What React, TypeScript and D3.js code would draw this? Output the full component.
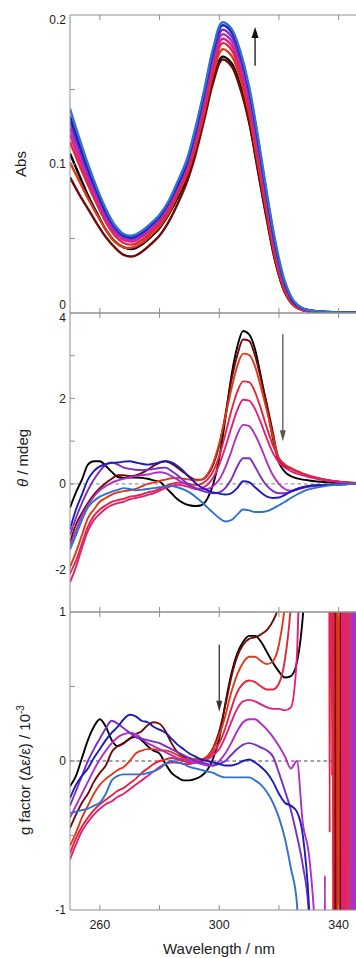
import React from 'react';
import * as d3 from 'd3';

const WIDTH = 356;
const HEIGHT = 958;
const FONT = '"Liberation Sans", Arial, Helvetica, sans-serif';

// ---------- series ----------
const SERIES_NAMES = ['black', 'maroon', 'red', 'crimson', 'pink', 'purple', 'violet', 'navy', 'blue'];
const SERIES_COLORS = ['#000000', '#720a0a', '#dd3a1c', '#e2263f', '#e41f7a', '#b12fc6', '#7a2dc8', '#1c1cb8', '#2f72cf'];

// ---------- absorbance panel ----------
const WL_ABS = [250, 253, 256, 259, 262, 265, 268, 271, 274, 277, 280, 283, 286, 289, 292, 295, 298, 301, 304, 307, 310, 313, 316, 319, 322, 325, 328, 331, 335, 340, 345, 350];
const ABS_BLACK = [0.107, 0.093, 0.079, 0.067, 0.056, 0.048, 0.044, 0.043, 0.046, 0.051, 0.057, 0.066, 0.077, 0.09, 0.108, 0.132, 0.157, 0.172, 0.168, 0.153, 0.129, 0.096, 0.063, 0.033, 0.014, 0.005, 0.002, 0.001, 0.0005, 0.0003, 0.0001, 0];
const ABS_MAROON = [0.091, 0.08, 0.07, 0.06, 0.051, 0.044, 0.039, 0.038, 0.041, 0.046, 0.052, 0.061, 0.073, 0.087, 0.106, 0.13, 0.155, 0.17, 0.166, 0.151, 0.128, 0.095, 0.062, 0.033, 0.014, 0.005, 0.002, 0.001, 0.0005, 0.0003, 0.0001, 0];
const ABS_RED = [0.101, 0.089, 0.077, 0.066, 0.056, 0.048, 0.044, 0.044, 0.047, 0.052, 0.058, 0.067, 0.079, 0.092, 0.111, 0.135, 0.161, 0.177, 0.173, 0.158, 0.134, 0.1, 0.066, 0.035, 0.015, 0.005, 0.002, 0.001, 0.0005, 0.0003, 0.0001, 0];
const ABS_CRIMSON = [0.115, 0.1, 0.086, 0.073, 0.061, 0.052, 0.047, 0.046, 0.049, 0.054, 0.06, 0.069, 0.081, 0.094, 0.114, 0.138, 0.165, 0.181, 0.177, 0.162, 0.138, 0.104, 0.069, 0.037, 0.016, 0.006, 0.002, 0.001, 0.0005, 0.0003, 0.0001, 0];
const ABS_PINK = [0.12, 0.104, 0.089, 0.076, 0.063, 0.054, 0.049, 0.048, 0.051, 0.056, 0.062, 0.071, 0.083, 0.096, 0.116, 0.141, 0.168, 0.184, 0.18, 0.165, 0.141, 0.107, 0.071, 0.039, 0.017, 0.006, 0.002, 0.001, 0.0005, 0.0003, 0.0001, 0];
const ABS_PURPLE = [0.124, 0.108, 0.092, 0.078, 0.065, 0.055, 0.05, 0.049, 0.052, 0.057, 0.063, 0.072, 0.084, 0.098, 0.118, 0.144, 0.171, 0.187, 0.183, 0.168, 0.144, 0.11, 0.074, 0.041, 0.018, 0.007, 0.003, 0.0015, 0.0008, 0.0004, 0.0002, 0];
const ABS_VIOLET = [0.128, 0.111, 0.094, 0.08, 0.066, 0.056, 0.051, 0.05, 0.053, 0.058, 0.064, 0.073, 0.085, 0.099, 0.12, 0.146, 0.173, 0.19, 0.186, 0.171, 0.147, 0.113, 0.076, 0.043, 0.019, 0.007, 0.003, 0.0015, 0.0008, 0.0004, 0.0002, 0];
const ABS_NAVY = [0.132, 0.114, 0.097, 0.082, 0.068, 0.058, 0.052, 0.051, 0.054, 0.059, 0.065, 0.074, 0.086, 0.1, 0.122, 0.148, 0.176, 0.193, 0.189, 0.174, 0.15, 0.116, 0.078, 0.044, 0.02, 0.007, 0.003, 0.0015, 0.0008, 0.0004, 0.0002, 0];
const ABS_BLUE = [0.137, 0.118, 0.1, 0.084, 0.07, 0.059, 0.053, 0.052, 0.055, 0.06, 0.066, 0.075, 0.088, 0.102, 0.124, 0.15, 0.178, 0.195, 0.191, 0.176, 0.152, 0.118, 0.08, 0.046, 0.021, 0.008, 0.003, 0.0015, 0.0008, 0.0004, 0.0002, 0];

// ---------- CD panel ----------
const WL_CD = [250, 252, 254, 256, 258, 260, 262, 264, 266, 268, 270, 272, 274, 276, 278, 280, 282, 284, 286, 288, 290, 292, 294, 296, 298, 300, 302, 304, 306, 308, 310, 312, 314, 316, 318, 320, 322, 324, 326, 328, 330, 334, 338, 342, 346, 350];
const CD_BLACK = [-0.56, -0.2, 0.1, 0.45, 0.53, 0.53, 0.42, 0.28, 0.16, 0.14, 0.15, 0.15, 0.14, 0.12, 0.08, 0.05, -0.08, -0.22, -0.36, -0.45, -0.5, -0.52, -0.5, -0.35, 0.0, 0.6, 1.5, 2.5, 3.2, 3.58, 3.5, 3.15, 2.5, 1.8, 1.05, 0.5, 0.28, 0.18, 0.13, 0.1, 0.08, 0.05, 0.03, 0.02, 0.01, 0];
const CD_MAROON = [-1.38, -0.95, -0.68, -0.45, -0.25, -0.1, 0.02, 0.12, 0.2, 0.2, 0.18, 0.2, 0.25, 0.33, 0.42, 0.5, 0.53, 0.47, 0.38, 0.27, 0.17, 0.1, 0.1, 0.2, 0.45, 0.9, 1.6, 2.4, 3.0, 3.38, 3.35, 3.0, 2.45, 1.85, 1.2, 0.55, 0.42, 0.36, 0.3, 0.24, 0.19, 0.12, 0.07, 0.04, 0.02, 0.01];
const CD_RED = [-1.95, -1.6, -1.2, -0.8, -0.6, -0.42, -0.33, -0.25, -0.2, -0.17, -0.15, -0.12, -0.06, 0.0, 0.03, 0.07, 0.1, 0.13, 0.14, 0.12, 0.1, 0.08, 0.1, 0.22, 0.5, 0.95, 1.55, 2.2, 2.75, 3.05, 3.02, 2.75, 2.25, 1.7, 1.1, 0.6, 0.45, 0.37, 0.3, 0.24, 0.19, 0.12, 0.07, 0.04, 0.02, 0.01];
const CD_CRIMSON = [-2.1, -1.8, -1.4, -1.0, -0.75, -0.6, -0.5, -0.42, -0.38, -0.35, -0.3, -0.28, -0.25, -0.2, -0.17, -0.12, -0.05, 0.0, 0.03, 0.02, 0.0, -0.03, 0.0, 0.1, 0.3, 0.65, 1.15, 1.7, 2.15, 2.4, 2.38, 2.15, 1.75, 1.3, 0.9, 0.6, 0.45, 0.36, 0.29, 0.23, 0.18, 0.11, 0.07, 0.04, 0.02, 0.01];
const CD_PINK = [-2.3, -1.95, -1.5, -1.1, -0.85, -0.7, -0.58, -0.5, -0.45, -0.42, -0.36, -0.33, -0.3, -0.26, -0.22, -0.16, -0.1, -0.05, -0.02, -0.04, -0.08, -0.12, -0.1, -0.02, 0.15, 0.45, 0.85, 1.3, 1.72, 1.97, 1.95, 1.75, 1.42, 1.05, 0.72, 0.5, 0.38, 0.3, 0.24, 0.2, 0.16, 0.1, 0.06, 0.03, 0.01, 0];
const CD_PURPLE = [-1.45, -1.1, -0.75, -0.5, -0.3, -0.15, -0.05, 0.03, 0.08, 0.12, 0.15, 0.18, 0.2, 0.22, 0.25, 0.27, 0.25, 0.18, 0.1, 0.02, -0.05, -0.1, -0.13, -0.12, -0.05, 0.1, 0.38, 0.75, 1.15, 1.38, 1.35, 1.15, 0.85, 0.5, 0.2, 0.0, -0.12, -0.16, -0.14, -0.1, -0.07, -0.04, -0.02, -0.01, 0, 0];
const CD_VIOLET = [-1.2, -0.8, -0.45, -0.15, 0.1, 0.3, 0.45, 0.5, 0.45, 0.38, 0.35, 0.33, 0.32, 0.33, 0.35, 0.37, 0.38, 0.3, 0.2, 0.08, -0.02, -0.1, -0.16, -0.2, -0.22, -0.2, -0.1, 0.1, 0.4, 0.6, 0.6, 0.4, 0.15, -0.05, -0.17, -0.22, -0.22, -0.18, -0.12, -0.08, -0.05, -0.03, -0.02, -0.01, 0, 0];
const CD_NAVY = [-1.07, -0.6, -0.25, 0.1, 0.3, 0.41, 0.46, 0.49, 0.5, 0.52, 0.53, 0.5, 0.47, 0.45, 0.47, 0.5, 0.53, 0.5, 0.42, 0.3, 0.15, 0.02, -0.08, -0.15, -0.2, -0.23, -0.25, -0.22, -0.1, 0.06, 0.04, -0.08, -0.2, -0.3, -0.33, -0.32, -0.26, -0.18, -0.12, -0.08, -0.05, -0.03, -0.02, -0.01, 0, 0];
const CD_BLUE = [-1.54, -1.2, -0.85, -0.55, -0.4, -0.3, -0.24, -0.18, -0.14, -0.1, -0.12, -0.15, -0.14, -0.12, -0.1, -0.08, -0.06, -0.05, -0.08, -0.13, -0.2, -0.3, -0.42, -0.55, -0.68, -0.8, -0.88, -0.85, -0.72, -0.6, -0.62, -0.66, -0.66, -0.64, -0.58, -0.5, -0.42, -0.33, -0.25, -0.18, -0.13, -0.07, -0.03, -0.01, 0, 0];

// ---------- g-factor panel ----------
const WL_G = [250, 252, 254, 256, 258, 260, 262, 264, 266, 268, 270, 272, 274, 276, 278, 280, 282, 284, 286, 288, 290, 292, 294, 296, 298, 300, 302, 304, 306, 308, 310, 312, 314, 316, 318, 320, 322, 324, 326, 328, 330, 332, 334];
const G_BLACK = [-0.17, -0.1, 0.02, 0.14, 0.23, 0.28, 0.23, 0.14, 0.1, 0.12, 0.15, 0.16, 0.14, 0.1, 0.07, 0.05, -0.02, -0.08, -0.11, -0.13, -0.13, -0.12, -0.1, -0.06, 0.02, 0.15, 0.38, 0.58, 0.72, 0.8, 0.84, 0.84, 0.8, 0.73, 0.66, 0.6, 0.56, 0.57, 0.66, 0.97, 1.6, 2, 2];
const G_MAROON = [-0.45, -0.36, -0.28, -0.22, -0.14, -0.08, -0.03, 0.06, 0.1, 0.12, 0.15, 0.18, 0.2, 0.24, 0.26, 0.25, 0.2, 0.12, 0.06, 0.03, 0.02, 0.01, 0.01, 0.03, 0.09, 0.2, 0.37, 0.56, 0.7, 0.78, 0.82, 0.83, 0.85, 0.88, 0.94, 1.06, 1.5, 2, 2, 2, 2, 2, 2];
const G_RED = [-0.57, -0.48, -0.38, -0.3, -0.22, -0.16, -0.12, -0.09, -0.06, -0.04, 0.0, 0.05, 0.07, 0.08, 0.08, 0.07, 0.07, 0.06, 0.04, 0.02, 0.01, 0.01, 0.01, 0.03, 0.08, 0.17, 0.3, 0.46, 0.58, 0.66, 0.7, 0.7, 0.67, 0.65, 0.67, 0.78, 1.05, 1.6, 2, 2, 2, 2, 2];
const G_CRIMSON = [-0.62, -0.52, -0.44, -0.38, -0.33, -0.29, -0.26, -0.23, -0.2, -0.18, -0.15, -0.12, -0.08, -0.05, -0.02, 0.0, 0.01, 0.02, 0.01, 0.0, -0.01, -0.01, 0.0, 0.02, 0.06, 0.12, 0.22, 0.35, 0.46, 0.52, 0.54, 0.53, 0.5, 0.48, 0.48, 0.52, 0.68, 1.05, 1.8, 2, 2, 2, 2];
const G_PINK = [-0.66, -0.56, -0.47, -0.41, -0.36, -0.32, -0.29, -0.27, -0.24, -0.22, -0.19, -0.16, -0.13, -0.1, -0.07, -0.04, -0.02, -0.01, -0.01, -0.02, -0.02, -0.01, 0.0, 0.01, 0.04, 0.08, 0.16, 0.26, 0.35, 0.4, 0.41, 0.4, 0.38, 0.36, 0.35, 0.35, 0.34, 0.36, 0.7, 2, 2, 2, 2];
const G_PURPLE = [-0.38, -0.3, -0.22, -0.14, -0.06, 0.01, 0.07, 0.12, 0.16, 0.18, 0.19, 0.18, 0.15, 0.12, 0.1, 0.08, 0.06, 0.04, 0.02, 0.01, 0.0, -0.01, -0.02, -0.03, -0.03, 0.0, 0.05, 0.12, 0.2, 0.26, 0.28, 0.28, 0.25, 0.21, 0.16, 0.1, 0.03, -0.05, 0.0, -0.42, -0.62, -1.1, -2];
const G_VIOLET = [-0.3, -0.2, -0.1, 0.0, 0.08, 0.15, 0.22, 0.27, 0.25, 0.22, 0.19, 0.16, 0.15, 0.14, 0.13, 0.12, 0.1, 0.08, 0.06, 0.04, 0.02, 0.0, -0.01, -0.02, -0.03, -0.02, 0.0, 0.04, 0.08, 0.11, 0.12, 0.11, 0.09, 0.07, 0.03, -0.08, -0.2, -0.33, -0.5, -0.7, -1.02, -2, -2];
const G_NAVY = [-0.25, -0.16, -0.1, -0.05, 0.02, 0.08, 0.14, 0.19, 0.23, 0.28, 0.31, 0.3, 0.27, 0.26, 0.23, 0.21, 0.19, 0.15, 0.11, 0.08, 0.05, 0.03, 0.01, 0.0, -0.01, -0.02, -0.03, -0.03, -0.02, 0.0, 0.01, -0.01, -0.04, -0.08, -0.14, -0.22, -0.28, -0.3, -0.34, -0.5, -0.95, -2, -2];
const G_BLUE = [-0.35, -0.34, -0.33, -0.32, -0.3, -0.28, -0.22, -0.13, -0.1, -0.09, -0.09, -0.09, -0.09, -0.08, -0.07, -0.05, -0.02, 0.0, -0.01, -0.02, -0.04, -0.05, -0.06, -0.07, -0.08, -0.1, -0.11, -0.11, -0.11, -0.11, -0.11, -0.13, -0.16, -0.21, -0.28, -0.38, -0.52, -0.72, -0.95, -2, -2, -2, -2];

// noisy region where the absorbance vanishes: [wavelength, g]
const G_TAIL_BLACK: [number, number][] = [[350, 2]];
const G_TAIL_MAROON: [number, number][] = [[338.5, 2], [338.7, -2], [338.9, 2], [339.1, -2], [339.3, 2], [340.1, 2], [340.3, -2], [340.5, 2], [340.7, -2], [340.9, 2], [350, 2]];
const G_TAIL_RED: [number, number][] = [[339.4, 2], [339.6, -2], [339.8, 2], [340.0, -2], [340.1, 2], [342.8, 2], [343.0, -2], [343.2, 2], [343.4, -2], [343.6, 2], [350, 2]];
const G_TAIL_CRIMSON: [number, number][] = [[336.8, 2], [337.0, -0.48], [337.2, 2], [337.6, 2], [337.8, -0.1], [338.0, 2], [338.2, -2], [338.4, 2], [350, 2]];
const G_TAIL_PINK: [number, number][] = [[337.3, 2], [337.5, 0.5], [337.7, 2], [341.0, 2], [341.2, -2], [341.5, 2], [341.8, -2], [342.1, 2], [342.4, -2], [342.7, 2], [350, 2]];
const G_TAIL_PURPLE: [number, number][] = [[335.2, -2], [335.4, -0.77], [335.6, -2], [343.8, -2], [344.0, 2], [344.3, -2], [344.6, 2], [344.9, -2], [345.2, 2], [345.5, -2], [345.8, 2], [350, 2]];
const G_TAIL_VIOLET: [number, number][] = [[350, -2]];
const G_TAIL_NAVY: [number, number][] = [[350, -2]];
const G_TAIL_BLUE: [number, number][] = [[350, -2]];

// ---------- axes ----------
const X_DOMAIN = [250, 350];
const X_TICKS = [260, 280, 300, 320, 340];
const X_TICK_LABELS = [260, 300, 340];
const ABS_TICKS = [0.05, 0.1, 0.15];
const ABS_TICK_LABELS = [0, 0.1, 0.2];
const CD_TICKS = [-2, -1, 0, 1, 2, 3];
const CD_TICK_LABELS = [-2, 0, 2, 4];
const G_TICKS = [-0.5, 0, 0.5];
const G_TICK_LABELS = [-1, 0, 1];

const ABS_SERIES = [ABS_BLACK, ABS_MAROON, ABS_RED, ABS_CRIMSON, ABS_PINK, ABS_PURPLE, ABS_VIOLET, ABS_NAVY, ABS_BLUE];
const CD_SERIES = [CD_BLACK, CD_MAROON, CD_RED, CD_CRIMSON, CD_PINK, CD_PURPLE, CD_VIOLET, CD_NAVY, CD_BLUE];
const G_SERIES = [G_BLACK, G_MAROON, G_RED, G_CRIMSON, G_PINK, G_PURPLE, G_VIOLET, G_NAVY, G_BLUE];
const G_TAILS = [G_TAIL_BLACK, G_TAIL_MAROON, G_TAIL_RED, G_TAIL_CRIMSON, G_TAIL_PINK, G_TAIL_PURPLE, G_TAIL_VIOLET, G_TAIL_NAVY, G_TAIL_BLUE];

const LEFT = 70;
const XRIGHT = 368.5;
const FRAME = '#8f8f8f';

function Arrow({ x, y1, y2, color, head, hw, sw }: any) {
  const dir = y2 > y1 ? 1 : -1;
  return (
    <g>
      <line x1={x} x2={x} y1={y1} y2={y2 - dir * head * 0.8} stroke={color} strokeWidth={sw} />
      <path d={`M${x},${y2} L${x - hw / 2},${y2 - dir * head} L${x + hw / 2},${y2 - dir * head} Z`} fill={color} />
    </g>
  );
}

export default function App() {
  const x = d3.scaleLinear().domain(X_DOMAIN).range([LEFT, XRIGHT]);

  const yAbs = d3.scaleLinear().domain([0, 0.2]).range([313, 15]);
  const yCd = d3.scaleLinear().domain([-3, 4]).range([612, 313]);
  const yG = d3.scaleLinear().domain([-1, 1]).range([910, 612]);

  const panels = [
    { id: 'p1', y: yAbs, top: 15, bottom: 313, ticks: ABS_TICKS, labels: ABS_TICK_LABELS },
    { id: 'p2', y: yCd, top: 313, bottom: 612, ticks: CD_TICKS, labels: CD_TICK_LABELS },
    { id: 'p3', y: yG, top: 612, bottom: 910, ticks: G_TICKS, labels: G_TICK_LABELS },
  ];

  const absLine = d3.line<[number, number]>().x(d => x(d[0])).y(d => yAbs(d[1])).curve(d3.curveCatmullRom.alpha(0.5));
  const cdLine = d3.line<[number, number]>().x(d => x(d[0])).y(d => yCd(d[1])).curve(d3.curveMonotoneX);
  const gLine = d3.line<[number, number]>().x(d => x(d[0])).y(d => yG(d[1])).curve(d3.curveMonotoneX);

  const labelNudge = (pid: string, v: number) => {
    if (pid === 'p1' && v === 0.2) return 5;
    if (pid === 'p1' && v === 0) return -8;
    if (pid === 'p2' && v === 4) return 5;
    return 0;
  };

  return (
    <svg width={WIDTH} height={HEIGHT} style={{ position: 'absolute', left: 0, top: 0, background: '#fff' }} fontFamily={FONT}>
      <rect x={0} y={0} width={WIDTH} height={HEIGHT} fill="#fff" />
      <defs>
        {panels.map(p => (
          <clipPath id={`clip-${p.id}`} key={p.id}>
            <rect x={LEFT} y={p.top} width={XRIGHT - LEFT} height={p.bottom - p.top} />
          </clipPath>
        ))}
      </defs>

      {/* zero lines */}
      <line x1={LEFT} x2={XRIGHT} y1={yCd(0)} y2={yCd(0)} stroke="#9a9a9a" strokeWidth={1.2} strokeDasharray="3.5,3" />
      <line x1={LEFT} x2={XRIGHT} y1={yG(0)} y2={yG(0)} stroke="#444" strokeWidth={1} strokeDasharray="3.5,3" />

      {/* data */}
      <g clipPath="url(#clip-p1)">
        {ABS_SERIES.map((vals, i) => (
          <path key={SERIES_NAMES[i]} d={absLine(WL_ABS.map((w, j) => [w, vals[j]] as [number, number])) || ''}
            fill="none" stroke={SERIES_COLORS[i]} strokeWidth={2.4} />
        ))}
      </g>
      <g clipPath="url(#clip-p2)">
        {CD_SERIES.map((vals, i) => (
          <path key={SERIES_NAMES[i]} d={cdLine(WL_CD.map((w, j) => [w, vals[j]] as [number, number])) || ''}
            fill="none" stroke={SERIES_COLORS[i]} strokeWidth={1.9} />
        ))}
      </g>
      <g clipPath="url(#clip-p3)">
        {G_SERIES.map((vals, i) => (
          <path key={SERIES_NAMES[i]}
            d={gLine(WL_G.map((w, j) => [w, vals[j]] as [number, number]).concat(G_TAILS[i])) || ''}
            fill="none" stroke={SERIES_COLORS[i]} strokeWidth={1.9} />
        ))}
      </g>

      {/* frames and ticks */}
      {panels.map(p => (
        <g key={`ax-${p.id}`}>
          <line x1={LEFT} x2={LEFT} y1={p.top} y2={p.bottom} stroke={FRAME} strokeWidth={1} />
          <line x1={LEFT} x2={XRIGHT} y1={p.top} y2={p.top} stroke={FRAME} strokeWidth={1} />
          <line x1={LEFT} x2={XRIGHT} y1={p.bottom} y2={p.bottom} stroke={FRAME} strokeWidth={1} />
          {p.ticks.map(t => (
            <line key={`yt-${t}`} x1={LEFT} x2={LEFT + 5} y1={p.y(t)} y2={p.y(t)} stroke={FRAME} strokeWidth={1} />
          ))}
          {X_TICKS.map(t => (
            <g key={`xt-${t}`}>
              <line x1={x(t)} x2={x(t)} y1={p.top} y2={p.top + 5} stroke={FRAME} strokeWidth={1} />
              <line x1={x(t)} x2={x(t)} y1={p.bottom} y2={p.bottom - 5} stroke={FRAME} strokeWidth={1} />
            </g>
          ))}
          {p.labels.map(v => (
            <text key={`yl-${v}`} x={66} y={p.y(v) + labelNudge(p.id, v)} dy="0.36em" textAnchor="end" fontSize={12} fill="#222">{String(v)}</text>
          ))}
        </g>
      ))}

      {/* x tick labels */}
      {X_TICK_LABELS.map(v => (
        <text key={`xl-${v}`} x={x(v)} y={929} textAnchor="middle" fontSize={12.5} fill="#222">{v}</text>
      ))}
      <text x={219} y={954} textAnchor="middle" fontSize={15} fill="#222">Wavelength / nm</text>

      {/* y titles */}
      <text transform={`translate(26,${yAbs(0.1)}) rotate(-90)`} textAnchor="middle" fontSize={15} fill="#222">Abs</text>
      <text transform={`translate(28,458) rotate(-90)`} textAnchor="middle" fontSize={15} fill="#222">
        <tspan fontStyle="italic">θ</tspan> / mdeg
      </text>
      <text transform={`translate(30,770) rotate(-90)`} textAnchor="middle" fontSize={15} fill="#222">
        g factor (Δε/ε) / 10<tspan dy={-6} fontSize={10}>-3</tspan>
      </text>

      {/* arrows */}
      <Arrow x={x(312)} y1={yAbs(0.166)} y2={yAbs(0.192)} color="#111" head={11} hw={7} sw={1.3} />
      <Arrow x={x(321.3)} y1={yCd(3.5)} y2={yCd(1.0)} color="#555" head={11} hw={6} sw={1.3} />
      <Arrow x={x(300)} y1={yG(0.78)} y2={yG(0.33)} color="#333" head={11} hw={6} sw={1.3} />
    </svg>
  );
}
